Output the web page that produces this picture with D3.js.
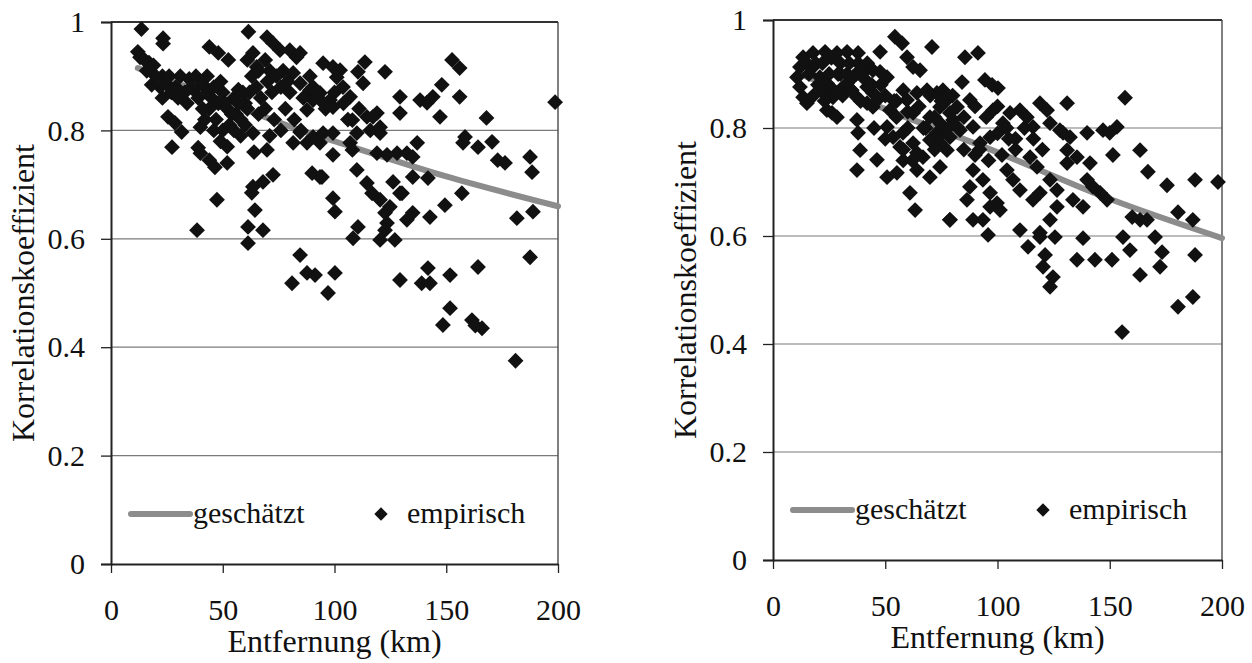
<!DOCTYPE html>
<meta charset="utf-8">
<title>Korrelationskoeffizient vs. Entfernung</title>
<style>
body { margin: 0; background: #fff; }
text { font-family: "Liberation Serif", "Times New Roman", serif; fill: #111; }
</style>
<div id="chart"></div>
<script src="https://d3js.org/d3.v7.min.js"></script>
<script>

// axis ticks
var xTicks = [0, 50, 100, 150, 200];
var yTicks = [0, 0.2, 0.4, 0.6, 0.8, 1];

// left panel: empirical points (distance km, correlation)
var leftX = [13.6, 23.3, 23.3, 12, 13, 15, 17, 19, 18.2, 23, 25, 27, 23, 31, 35, 38, 41, 43, 37,
  25.5, 28.6, 31.6, 27.3, 40, 39, 40, 44, 46.5, 52, 47.4, 38.5, 44, 48, 52.5, 61.5, 61, 63.5, 65.2,
  69.8, 72.5, 75.6, 80, 83, 63.5, 69.8, 72.5, 68, 63.5, 63, 64.4, 61.3, 61.3, 68, 84.6, 87.7, 91.3,
  81, 90, 93.5, 81.5, 84.6, 89, 90.4, 87.7, 81.5, 87.7, 93.5,
  45, 48, 50, 52, 55, 47, 50, 53, 56, 58, 44, 42, 57, 60, 62, 65, 67, 70, 72, 74, 77, 79, 66, 69,
  73, 76, 78, 60, 64, 71, 85,
  84.6, 94.9, 99.3, 102.5, 101, 113.6, 110.5, 112.8, 122.6, 90.4, 93.5, 98, 103.8, 107, 94.9, 99.3,
  108, 110, 114.5, 119, 120.4, 120.4, 84.6, 90.4, 94.9, 99.3, 107, 108, 99.3, 94.4, 119, 123.5, 128,
  132.4, 137, 135, 110, 114.5, 116.8, 126.2, 130.2, 135, 141.8, 129.3, 138.3, 141.4, 144, 147.2,
  129.3, 117.2, 148, 152.6, 156, 156, 168, 158.4, 157.5, 164.2, 170.5, 173, 176.3, 187.5, 188.4,
  198.7, 99.3, 100.2, 110.5, 108.3, 120.4, 122.6, 124.8, 122.6, 120.4, 127, 123.5, 129.3, 132.4,
  135, 142.7, 149.4, 157, 181.6, 188.8, 187.5, 100.2, 97.1, 129.3, 139, 141.8, 142.7, 151.7, 164.2,
  151.7, 148.5, 161.5, 166, 163, 181,
  16, 20, 22, 26, 29, 30, 33, 34, 36, 39, 41, 43, 46, 49, 51, 54, 57, 59, 46, 49, 55, 52, 58, 61,
  63, 66, 69, 71, 76, 80, 82, 86, 89, 92, 96, 100, 104, 106, 111, 116];
var leftY = [0.987, 0.970, 0.960, 0.945, 0.935, 0.930, 0.925, 0.920, 0.884, 0.900, 0.885, 0.870, 0.860,
  0.900, 0.895, 0.900, 0.885, 0.900, 0.875, 0.825, 0.814, 0.797, 0.769, 0.806, 0.768, 0.758, 0.745,
  0.732, 0.740, 0.672, 0.616, 0.954, 0.943, 0.930, 0.982, 0.930, 0.943, 0.917, 0.972, 0.961, 0.948,
  0.948, 0.935, 0.795, 0.764, 0.718, 0.705, 0.696, 0.685, 0.653, 0.622, 0.592, 0.616, 0.570, 0.537,
  0.533, 0.518, 0.721, 0.714, 0.906, 0.887, 0.874, 0.856, 0.838, 0.777, 0.777, 0.777,
  0.86, 0.85, 0.87, 0.84, 0.86, 0.82, 0.80, 0.81, 0.83, 0.79, 0.84, 0.82, 0.875, 0.85, 0.87, 0.88,
  0.86, 0.89, 0.87, 0.90, 0.91, 0.89, 0.83, 0.84, 0.82, 0.80, 0.84, 0.81, 0.76, 0.79, 0.80,
  0.943, 0.924, 0.917, 0.911, 0.898, 0.926, 0.908, 0.887, 0.908, 0.880, 0.869, 0.856, 0.880, 0.862,
  0.851, 0.843, 0.819, 0.795, 0.825, 0.832, 0.806, 0.795, 0.797, 0.788, 0.795, 0.795, 0.777, 0.764,
  0.755, 0.714, 0.758, 0.755, 0.758, 0.758, 0.777, 0.751, 0.727, 0.703, 0.684, 0.705, 0.684, 0.714,
  0.712, 0.862, 0.856, 0.851, 0.862, 0.825, 0.832, 0.825, 0.884, 0.930, 0.915, 0.862, 0.823, 0.788,
  0.777, 0.769, 0.779, 0.745, 0.740, 0.751, 0.723, 0.852, 0.675, 0.650, 0.622, 0.601, 0.672, 0.648,
  0.659, 0.616, 0.598, 0.598, 0.629, 0.684, 0.635, 0.648, 0.640, 0.662, 0.684, 0.638, 0.650, 0.566,
  0.537, 0.500, 0.524, 0.518, 0.546, 0.518, 0.533, 0.548, 0.472, 0.441, 0.450, 0.435, 0.440, 0.375,
  0.91, 0.90, 0.88, 0.90, 0.88, 0.86, 0.87, 0.85, 0.88, 0.86, 0.84, 0.87, 0.88, 0.89, 0.85, 0.83,
  0.85, 0.87, 0.80, 0.78, 0.80, 0.77, 0.82, 0.84, 0.90, 0.91, 0.93, 0.91, 0.88, 0.87, 0.82, 0.86,
  0.90, 0.87, 0.84, 0.87, 0.85, 0.82, 0.84, 0.80];

// left panel: estimated curve
var leftFitX = [12, 50, 85, 100, 150, 200];
var leftFitY = [0.915, 0.855, 0.800, 0.780, 0.715, 0.660];

// right panel: empirical points
var rightX = [13.4, 17.8, 23.2, 28.5, 33, 37.9, 47.7, 12, 10.7, 12, 13.4, 15.1, 17.8, 20.9, 24, 22.3,
  26.7, 29.8, 33, 35.6, 40, 44.5, 47.7, 50.8, 26.3, 24, 28.5, 37.4, 41.9, 44.5, 41.9, 44.5, 37.4,
  37.9, 38.8, 37.4, 46.3, 50.8, 55.2, 54.3, 57.5, 59.7, 62.4, 65.5, 70.8,
  52.1, 50.8, 53.5, 57.9, 56.6, 62.4, 64.1, 66.8, 69.9, 73, 74.4, 69.9, 62.4, 59.7, 64.1, 68.6, 73,
  77.5, 82, 82, 78.8, 77.5, 74.4, 69.9, 64.1, 61, 63.3, 78.8,
  85.5, 91.3, 84.2, 87.7, 94.4, 97.6, 100.2, 75.7, 74.4, 78.8, 80.2, 83.3, 75.7, 74.4,
  89.1, 92.2, 96.7, 98, 102.4, 105.6, 110, 113.1, 115.8, 118.9, 122.1, 123.4, 127.8, 131, 129.2, 132.3,
  139.9, 147, 150, 153.2, 156.8, 163.5, 151.4, 131, 135.4, 141.2, 131, 167, 175.5, 188, 198.2,
  89.1, 87.7, 86.4, 93.5, 96.7, 99.8, 96.7, 101.1, 104.2, 106.9, 110, 114.5, 117.6, 115.8, 118.9,
  123.4, 126.5, 126.5, 123.4, 118.9, 133.6, 138.1, 142.5, 145.7, 148.8, 139.9, 78.8, 89.1, 93.5, 95.8,
  110, 113.6, 118.9, 125.6, 138.1, 121.2, 120.3, 124.7, 123.4, 135.4, 143.4, 151, 155.9, 159, 163.5,
  160, 163.5, 166.6, 170.2, 173.3, 172.4, 180.4, 187, 188, 180.4, 187, 155.5,
  30, 35, 55, 60, 85, 90, 105, 108, 100, 68, 72, 58,
  15, 19, 22, 26, 30, 34, 38, 42, 16, 20, 25, 29, 33, 37, 41, 18, 23, 27, 31, 35, 39, 44, 48, 46,
  50, 54, 58, 55, 60, 65, 70, 75, 80, 67, 72, 78, 85, 90, 95, 100, 104, 108, 112, 116, 120, 92, 96,
  102, 58, 62, 50, 45];
var rightY = [0.931, 0.939, 0.941, 0.939, 0.941, 0.939, 0.941, 0.913, 0.894, 0.876, 0.857, 0.846, 0.913,
  0.894, 0.883, 0.865, 0.857, 0.870, 0.883, 0.894, 0.902, 0.907, 0.904, 0.894, 0.828, 0.833, 0.820,
  0.857, 0.876, 0.865, 0.846, 0.839, 0.815, 0.791, 0.759, 0.722, 0.741, 0.709, 0.717, 0.969, 0.957,
  0.931, 0.913, 0.907, 0.950,
  0.833, 0.802, 0.783, 0.791, 0.765, 0.772, 0.754, 0.746, 0.778, 0.791, 0.809, 0.820, 0.828, 0.852,
  0.865, 0.870, 0.865, 0.852, 0.839, 0.802, 0.783, 0.759, 0.728, 0.709, 0.722, 0.680, 0.648, 0.630,
  0.931, 0.939, 0.885, 0.852, 0.889, 0.880, 0.874, 0.870, 0.839, 0.828, 0.815, 0.796, 0.791, 0.772,
  0.802, 0.772, 0.783, 0.833, 0.809, 0.828, 0.833, 0.820, 0.802, 0.846, 0.833, 0.809, 0.796, 0.846,
  0.791, 0.783, 0.791, 0.796, 0.791, 0.802, 0.856, 0.759, 0.750, 0.759, 0.746, 0.735, 0.735, 0.719,
  0.694, 0.704, 0.700, 0.722, 0.691, 0.667, 0.704, 0.680, 0.661, 0.654, 0.648, 0.722, 0.704, 0.685,
  0.746, 0.728, 0.667, 0.680, 0.704, 0.685, 0.654, 0.630, 0.606, 0.667, 0.654, 0.691, 0.680, 0.667,
  0.704, 0.630, 0.630, 0.630, 0.602, 0.611, 0.580, 0.598, 0.598, 0.596, 0.565, 0.543, 0.524, 0.506,
  0.556, 0.556, 0.556, 0.598, 0.574, 0.528, 0.635, 0.630, 0.630, 0.598, 0.570, 0.543, 0.644, 0.630,
  0.565, 0.469, 0.487, 0.422,
  0.90, 0.87, 0.85, 0.80, 0.76, 0.75, 0.78, 0.76, 0.79, 0.80, 0.76, 0.74,
  0.92, 0.92, 0.92, 0.93, 0.92, 0.92, 0.92, 0.92, 0.90, 0.88, 0.90, 0.90, 0.90, 0.90, 0.89, 0.86,
  0.85, 0.87, 0.86, 0.87, 0.85, 0.88, 0.88, 0.85, 0.86, 0.85, 0.87, 0.82, 0.83, 0.84, 0.86, 0.85,
  0.86, 0.80, 0.82, 0.80, 0.82, 0.84, 0.82, 0.84, 0.80, 0.78, 0.80, 0.78, 0.76, 0.76, 0.74, 0.75,
  0.76, 0.74, 0.78, 0.80];

// right panel: estimated curve
var rightFitX = [12, 21, 50, 97, 151, 200];
var rightFitY = [0.900, 0.885, 0.835, 0.760, 0.667, 0.596];

var legendLabels = ["geschätzt", "empirisch"];
var xTitle = "Entfernung (km)";
var yTitle = "Korrelationskoeffizient";

var svg = d3.select("#chart").append("svg")
  .attr("width", 1252)
  .attr("height", 663);

function drawPanel(box, xs, ys, fitX, fitY) {
  var x = d3.scaleLinear().domain([0, 200]).range([box.left, box.right]);
  var y = d3.scaleLinear().domain([0, 1]).range([box.bottom, box.top]);
  var g = svg.append("g");

  // horizontal gridlines
  g.selectAll(".grid")
    .data(yTicks.filter(function(d) { return d > 0; }))
    .enter().append("line")
      .attr("x1", box.left).attr("x2", box.right)
      .attr("y1", function(d) { return y(d); })
      .attr("y2", function(d) { return y(d); })
      .attr("stroke", "#7a7a7a")
      .attr("stroke-width", 1.2);

  // frame (top and right side)
  g.append("line")
    .attr("x1", box.right).attr("x2", box.right)
    .attr("y1", box.top).attr("y2", box.bottom)
    .attr("stroke", "#555").attr("stroke-width", 1.5);
  g.append("line")
    .attr("x1", box.left).attr("x2", box.right)
    .attr("y1", box.top).attr("y2", box.top)
    .attr("stroke", "#333").attr("stroke-width", 1.8);

  // y axis
  var yAxis = g.append("g")
    .attr("transform", "translate(" + box.left + ",0)")
    .call(d3.axisLeft(y).tickValues(yTicks).tickSize(10).tickPadding(16)
      .tickFormat(function(d) { return d === 0 || d === 1 ? d : d3.format(".1f")(d); }));
  // x axis
  var xAxis = g.append("g")
    .attr("transform", "translate(0," + box.bottom + ")")
    .call(d3.axisBottom(x).tickValues(xTicks).tickSize(9).tickPadding(26).tickSizeOuter(0));
  [yAxis, xAxis].forEach(function(a) {
    a.select(".domain").attr("stroke", "#222").attr("stroke-width", 2);
    a.selectAll(".tick line").attr("stroke", "#222").attr("stroke-width", 1.3);
    a.selectAll(".tick text")
      .attr("font-size", 30)
      .attr("fill", "#111");
  });

  // estimated curve
  var line = d3.line()
    .x(function(d) { return x(d[0]); })
    .y(function(d) { return y(d[1]); })
    .curve(d3.curveMonotoneX);
  g.append("path")
    .attr("d", line(d3.zip(fitX, fitY)))
    .attr("fill", "none")
    .attr("stroke", "#8c8c8c")
    .attr("stroke-width", 6)
    .attr("stroke-linecap", "round");

  // empirical points (rotated squares)
  var diamond = d3.symbol().type(d3.symbolSquare).size(125);
  g.selectAll(".pt")
    .data(d3.zip(xs, ys))
    .enter().append("path")
      .attr("d", diamond)
      .attr("transform", function(d) {
        return "translate(" + x(d[0]) + "," + y(d[1]) + ") rotate(45)";
      })
      .attr("fill", "#111");

  // legend
  var ly = box.bottom - 50;
  g.append("line")
    .attr("x1", box.left + 20).attr("x2", box.left + 79)
    .attr("y1", ly).attr("y2", ly)
    .attr("stroke", "#8c8c8c").attr("stroke-width", 6)
    .attr("stroke-linecap", "round");
  g.append("text")
    .attr("x", box.left + 82).attr("y", ly + 9)
    .attr("font-size", 30)
    .text(legendLabels[0]);
  g.append("path")
    .attr("d", d3.symbol().type(d3.symbolSquare).size(90))
    .attr("transform", "translate(" + (box.left + 270) + "," + ly + ") rotate(45)")
    .attr("fill", "#111");
  g.append("text")
    .attr("x", box.left + 296).attr("y", ly + 9)
    .attr("font-size", 30)
    .text(legendLabels[1]);

  // axis titles
  g.append("text")
    .attr("x", (box.left + box.right) / 2)
    .attr("y", box.bottom + 88)
    .attr("text-anchor", "middle")
    .attr("font-size", 32)
    .text(xTitle);
  g.append("text")
    .attr("transform", "translate(" + (box.left - 77) + "," + ((box.top + box.bottom) / 2) + ") rotate(-90)")
    .attr("text-anchor", "middle")
    .attr("font-size", 32)
    .text(yTitle);
}

drawPanel({left: 111, right: 558, top: 22, bottom: 564}, leftX, leftY, leftFitX, leftFitY);
drawPanel({left: 773, right: 1222, top: 20, bottom: 560}, rightX, rightY, rightFitX, rightFitY);

</script>
